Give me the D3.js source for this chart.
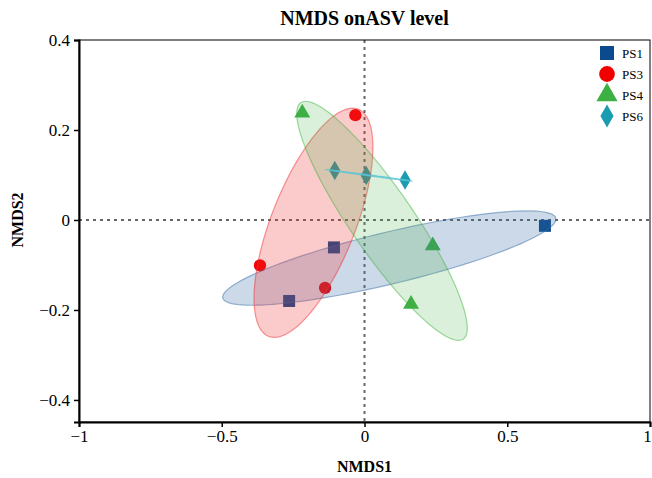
<!DOCTYPE html>
<html>
<head>
<meta charset="utf-8">
<script src="https://cdn.jsdelivr.net/npm/d3@7"></script>
<style>
  body { margin: 0; background: #fff; }
  text { font-family: "Liberation Serif", "Times New Roman", serif; }
</style>
</head>
<body>
<div id="chart"><svg></svg></div>
<script>
// NMDS scores
var groups = ["PS1", "PS3", "PS4", "PS6"];
var nmds1 = {
  PS1: [-0.107, -0.264, 0.632],
  PS3: [-0.366, -0.138, -0.032],
  PS4: [-0.218, 0.239, 0.163],
  PS6: [-0.104, 0.006, 0.142]
};
var nmds2 = {
  PS1: [-0.061, -0.180, -0.013],
  PS3: [-0.101, -0.151, 0.233],
  PS4: [0.238, -0.057, -0.187],
  PS6: [0.110, 0.099, 0.089]
};
var xTicks = [-1, -0.5, 0, 0.5, 1];
var yTicks = [-0.4, -0.2, 0, 0.2, 0.4];

var colors = { PS1: "#0b4a8c", PS3: "#f20000", PS4: "#3cb043", PS6: "#1a9cb0" };
var fills = { PS1: "#3a6ea8", PS3: "#ee3333", PS4: "#44b444", PS6: "#5cc4d6" };
var shapes = { PS1: d3.symbolSquare, PS3: d3.symbolCircle, PS4: d3.symbolTriangle, PS6: d3.symbolDiamond };
var sizes = { PS1: 144, PS3: 120, PS4: 110, PS6: 110 };

var margin = {top: 40, right: 2, bottom: 56, left: 79},
    width = 652 - margin.left - margin.right,
    height = 478 - margin.top - margin.bottom;

var x = d3.scaleLinear().domain([-1, 1]).range([0, width]),
    y = d3.scaleLinear().domain([-0.449, 0.4]).range([height, 0]);

var svg = d3.select("#chart").select("svg")
    .attr("width", 652)
    .attr("height", 478);

var g = svg.append("g")
    .attr("transform", "translate(" + margin.left + "," + margin.top + ")");

// zero lines
g.append("line")
    .attr("x1", x(0)).attr("x2", x(0)).attr("y1", 0).attr("y2", height)
    .attr("stroke", "#666").attr("stroke-width", 2).attr("stroke-dasharray", "3,4");
g.append("line")
    .attr("x1", 0).attr("x2", width).attr("y1", y(0)).attr("y2", y(0))
    .attr("stroke", "#666").attr("stroke-width", 2).attr("stroke-dasharray", "3,4");

// points
groups.forEach(function(k) {
  var pts = nmds1[k].map(function(v, i) { return [v, nmds2[k][i]]; });
  g.selectAll(".pt-" + k)
      .data(pts)
    .enter().append("path")
      .attr("class", "pt-" + k)
      .attr("d", d3.symbol().type(shapes[k]).size(sizes[k]))
      .attr("transform", function(d) { return "translate(" + x(d[0]) + "," + y(d[1]) + ")"; })
      .attr("fill", colors[k]);
});

// covariance ellipse for each group
function ellipse(xs, ys, c) {
  var n = xs.length;
  var mx = d3.mean(xs), my = d3.mean(ys);
  var sxx = 0, syy = 0, sxy = 0;
  for (var i = 0; i < n; i++) {
    sxx += (xs[i] - mx) * (xs[i] - mx);
    syy += (ys[i] - my) * (ys[i] - my);
    sxy += (xs[i] - mx) * (ys[i] - my);
  }
  sxx /= n - 1; syy /= n - 1; sxy /= n - 1;
  var tr = sxx + syy, det = sxx * syy - sxy * sxy;
  var disc = Math.sqrt(Math.max(tr * tr / 4 - det, 0));
  var l1 = tr / 2 + disc, l2 = Math.max(tr / 2 - disc, 0);
  var ang = Math.atan2(l1 - sxx, sxy);
  if (Math.abs(sxy) < 1e-12) ang = sxx >= syy ? 0 : Math.PI / 2;
  var a = c * Math.sqrt(l1), b = c * Math.sqrt(l2);
  var out = [];
  for (var t = 0; t <= 360; t += 3) {
    var r = t * Math.PI / 180;
    var ex = a * Math.cos(r), ey = b * Math.sin(r);
    out.push([mx + ex * Math.cos(ang) - ey * Math.sin(ang),
              my + ex * Math.sin(ang) + ey * Math.cos(ang)]);
  }
  return out;
}

var line = d3.line()
    .x(function(d) { return x(d[0]); })
    .y(function(d) { return y(d[1]); })
    .curve(d3.curveLinearClosed);

groups.forEach(function(k) {
  var e = ellipse(nmds1[k], nmds2[k], 1.22);
  g.append("path")
      .attr("d", line(e))
      .attr("fill", fills[k])
      .attr("fill-opacity", k == "PS6" ? 0.5 : (k == "PS4" ? 0.2 : 0.26))
      .attr("stroke", fills[k])
      .attr("stroke-opacity", k == "PS6" ? 0.8 : 0.5)
      .attr("stroke-width", 1.2);
});

// frame
g.append("rect")
    .attr("width", width).attr("height", height)
    .attr("fill", "none").attr("stroke", "#000").attr("stroke-width", 1);

// axes
var fmt = function(d) { return d3.format("")(d).replace("-", "\u2212"); };
var xAxis = g.append("g")
    .attr("transform", "translate(0," + height + ")")
    .call(d3.axisBottom(x).tickValues(xTicks).tickSize(5).tickPadding(3).tickFormat(fmt));
var yAxis = g.append("g")
    .call(d3.axisLeft(y).tickValues(yTicks).tickSize(5).tickPadding(4).tickFormat(fmt));

[xAxis, yAxis].forEach(function(ax) {
  ax.select(".domain").attr("stroke-width", 2);
  ax.selectAll(".tick line").attr("stroke-width", 1.5);
  ax.selectAll("text")
      .style("font-family", "Liberation Serif, serif")
      .style("font-size", "17px")
      .attr("fill", "#000");
});
// last x label sits on the page edge, keep it readable
xAxis.selectAll(".tick text").filter(function(d) { return d == 1; }).attr("dx", -3);

// titles
svg.append("text")
    .attr("x", margin.left + x(0)).attr("y", 25)
    .attr("text-anchor", "middle")
    .style("font-size", "20px").style("font-weight", "bold")
    .text("NMDS onASV level");
svg.append("text")
    .attr("x", margin.left + x(0)).attr("y", 472)
    .attr("text-anchor", "middle")
    .style("font-size", "16px").style("font-weight", "bold")
    .text("NMDS1");
svg.append("text")
    .attr("transform", "translate(23," + (margin.top + y(0)) + ") rotate(-90)")
    .attr("text-anchor", "middle")
    .style("font-size", "16px").style("font-weight", "bold")
    .text("NMDS2");

// legend
var legend = svg.append("g").attr("transform", "translate(607,53)");
groups.forEach(function(k, i) {
  var row = legend.append("g").attr("transform", "translate(0," + (i * 21) + ")");
  row.append("path")
      .attr("d", d3.symbol().type(shapes[k]).size(k == "PS6" ? 150 : 195))
      .attr("fill", colors[k]);
  row.append("text")
      .attr("x", 15).attr("y", 4.5)
      .style("font-size", "13px")
      .text(k);
});
</script>
</body>
</html>
